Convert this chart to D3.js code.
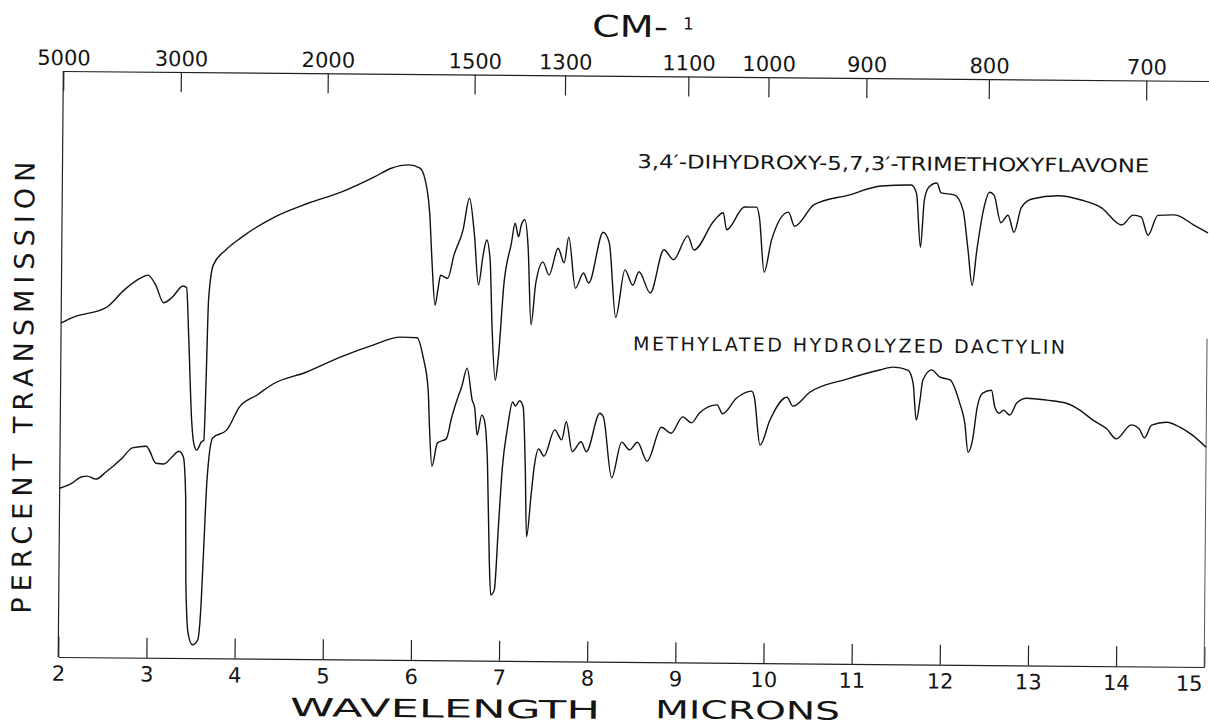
<!DOCTYPE html>
<html>
<head>
<meta charset="utf-8">
<script src="https://cdn.jsdelivr.net/npm/d3@7"></script>
<style>
body { margin: 0; background: #fff; }
text { font-family: "DejaVu Sans", sans-serif; fill: #151515; }
</style>
</head>
<body>
<svg id="chart" width="1209" height="726"></svg>
<script>
// wavelength scale (bottom) and wavenumber labels (top)
const microns = [2, 3, 4, 5, 6, 7, 8, 9, 10, 11, 12, 13, 14, 15];
const wavenumbers = [5000, 3000, 2000, 1500, 1300, 1100, 1000, 900, 800, 700];

// [wavelength in microns, percent transmission]
const flavone = [
	[2.00,57.0],[2.14,58.0],[2.52,59.8],[2.71,62.7],[2.90,64.8],[2.98,65.3],[3.07,63.6],[3.16,60.6],[3.26,61.6],[3.38,63.5],
	[3.42,63.2],[3.45,54.3],[3.49,40.6],[3.52,36.4],[3.55,35.5],[3.58,36.2],[3.60,36.9],[3.63,37.2],[3.65,47.5],[3.67,61.1],
	[3.72,67.1],[3.86,69.7],[4.03,71.8],[4.41,75.4],[4.79,77.8],[5.17,79.8],[5.54,82.4],[5.73,83.9],[5.93,84.5],[6.05,84.0],
	[6.10,82.8],[6.17,76.3],[6.20,68.3],[6.24,60.6],[6.27,63.2],[6.30,65.7],[6.38,65.2],[6.45,69.2],[6.55,73.5],[6.62,78.9],
	[6.68,72.6],[6.73,64.1],[6.78,69.2],[6.82,71.8],[6.86,68.4],[6.89,56.4],[6.93,47.9],[6.96,51.3],[7.02,64.5],[7.10,71.3],
	[7.14,74.7],[7.18,72.4],[7.21,74.4],[7.25,75.3],[7.29,70.6],[7.33,57.4],[7.38,64.5],[7.46,68.1],[7.53,65.9],[7.63,70.5],
	[7.70,68.0],[7.75,72.4],[7.83,63.7],[7.92,66.3],[7.98,64.6],[8.14,73.3],[8.21,71.5],[8.29,58.8],[8.39,66.9],[8.48,64.3],
	[8.55,66.6],[8.68,63.0],[8.83,70.4],[8.94,68.7],[9.10,72.8],[9.17,70.4],[9.40,75.5],[9.50,76.8],[9.54,73.9],[9.74,77.8],
	[9.88,77.8],[9.91,76.1],[9.97,66.7],[10.05,72.2],[10.24,77.0],[10.31,74.6],[10.53,78.3],[10.92,80.0],[11.29,81.6],[11.63,81.8],
	[11.69,80.4],[11.74,71.2],[11.78,79.3],[11.83,81.5],[11.92,82.2],[11.97,80.5],[12.12,80.2],[12.22,77.6],[12.28,70.8],[12.33,64.8],
	[12.38,70.8],[12.45,77.6],[12.52,80.7],[12.57,80.2],[12.65,75.5],[12.73,76.8],[12.80,73.9],[12.88,78.1],[13.00,79.6],[13.30,80.2],
	[13.56,79.5],[13.79,78.2],[14.02,75.3],[14.15,77.0],[14.24,76.7],[14.32,73.6],[14.43,77.0],[14.62,77.1],[14.84,75.4],[15.00,74.1]
];

const dactylin = [
	[2.00,28.8],[2.14,29.7],[2.25,30.8],[2.31,30.9],[2.41,30.4],[2.52,31.6],[2.71,34.1],[2.82,35.8],[2.98,36.1],[3.01,35.5],
	[3.09,33.2],[3.18,33.1],[3.27,34.3],[3.35,35.3],[3.40,34.3],[3.43,27.5],[3.44,13.3],[3.47,4.3],[3.52,2.3],[3.58,3.1],
	[3.61,7.7],[3.64,19.0],[3.67,30.4],[3.73,37.6],[3.89,39.0],[4.03,42.9],[4.23,45.0],[4.41,46.9],[4.79,49.0],[5.17,51.6],
	[5.54,53.7],[5.85,55.1],[6.04,55.0],[6.11,51.7],[6.17,46.1],[6.19,39.3],[6.22,33.1],[6.28,37.1],[6.38,37.8],[6.44,41.5],
	[6.51,45.0],[6.55,46.7],[6.61,49.9],[6.67,44.5],[6.70,43.1],[6.73,38.5],[6.78,41.9],[6.81,41.1],[6.85,33.7],[6.88,17.2],
	[6.90,11.2],[6.94,12.1],[6.98,22.8],[7.02,33.1],[7.07,39.4],[7.13,44.2],[7.16,43.5],[7.21,44.4],[7.25,43.3],[7.28,32.6],
	[7.30,21.2],[7.35,28.7],[7.38,33.1],[7.43,36.2],[7.49,35.0],[7.61,39.5],[7.69,37.8],[7.74,40.9],[7.81,35.8],[7.91,37.5],
	[7.97,35.8],[8.12,42.4],[8.16,41.8],[8.26,31.4],[8.37,37.5],[8.46,36.2],[8.55,37.5],[8.66,34.3],[8.82,40.1],[8.93,39.1],
	[9.06,41.9],[9.16,40.9],[9.25,42.6],[9.45,44.0],[9.51,42.5],[9.67,45.2],[9.84,46.4],[9.87,45.4],[9.94,37.2],[10.05,41.5],
	[10.24,45.4],[10.31,43.9],[10.50,46.3],[10.92,48.6],[11.29,50.2],[11.44,50.7],[11.61,50.2],[11.67,48.0],[11.71,41.7],[11.75,45.1],
	[11.78,48.5],[11.88,50.3],[11.97,49.1],[12.09,48.6],[12.20,44.7],[12.26,41.3],[12.30,36.3],[12.35,38.4],[12.40,44.0],[12.46,46.4],
	[12.56,46.9],[12.60,44.0],[12.65,43.0],[12.70,43.5],[12.77,42.7],[12.85,44.8],[12.96,45.6],[13.19,45.3],[13.41,44.8],[13.56,43.7],
	[13.71,42.0],[13.87,40.5],[13.98,38.8],[14.15,41.2],[14.24,40.5],[14.30,39.0],[14.38,41.2],[14.55,41.7],[14.70,40.9],[14.84,39.6],
	[15.00,37.5]
];

const flavoneName = "3,4\u2032-DIHYDROXY-5,7,3\u2032-TRIMETHOXYFLAVONE";
const dactylinName = "METHYLATED HYDROLYZED DACTYLIN";

const frame = {left: 60.75, right: 1206.75, top: 76, bottom: 662};

const svg = d3.select("#chart");
// the scanned sheet sits slightly askew
let g = svg.append("g").attr("transform", "rotate(0.5,633.75,369)");

let x = d3.scaleLinear().domain([2, 15]).range([frame.left, frame.right]);
let y = d3.scaleLinear().domain([0, 100]).range([frame.bottom, frame.top]);

//Bottom axis (microns)
let bottomAxis = d3.axisBottom(x)
	.tickValues(microns)
	.tickFormat(d3.format("d"))
	.tickSize(-20)
	.tickSizeOuter(0)
	.tickPadding(9);
let bAx = g.append("g")
	.attr("transform", "translate(0," + frame.bottom + ")")
	.call(bottomAxis);
// last label would run off the sheet
bAx.selectAll(".tick text")
	.filter(d => d == 15)
	.attr("text-anchor", "end")
	.attr("dx", -2);

//Top axis (wavenumbers, placed at their wavelength)
let topAxis = d3.axisTop(x)
	.tickValues(wavenumbers.map(n => 10000 / n))
	.tickFormat(d => Math.round(10000 / d))
	.tickSize(-20)
	.tickSizeOuter(0)
	.tickPadding(6);
let tAx = g.append("g")
	.attr("transform", "translate(0," + frame.top + ")")
	.call(topAxis);

g.selectAll(".domain, .tick line").attr("stroke", "#222").attr("stroke-width", 1.2);
g.selectAll(".tick text").attr("font-size", 21).attr("font-family", "DejaVu Sans").attr("fill", "#151515");

//Frame sides
g.append("line")
	.attr("x1", x(2)).attr("x2", x(2))
	.attr("y1", y(100)).attr("y2", y(0))
	.attr("stroke", "#222").attr("stroke-width", 1.2);
g.append("line")
	.attr("x1", x(15)).attr("x2", x(15))
	.attr("y1", y(56)).attr("y2", y(0))
	.attr("stroke", "#555").attr("stroke-width", 1);

//Spectra
let line = d3.line()
	.x(d => x(d[0]))
	.y(d => y(d[1]))
	.curve(d3.curveMonotoneX);

[flavone, dactylin].forEach(series => {
	g.append("path")
		.datum(series)
		.attr("d", line)
		.attr("fill", "none")
		.attr("stroke", "#111")
		.attr("stroke-width", 1.4)
		.attr("stroke-linejoin", "round");
});

//Compound names
g.append("text")
	.attr("x", x(8.52)).attr("y", y(84.3))
	.attr("font-size", 19)
	.attr("textLength", 512).attr("lengthAdjust", "spacingAndGlyphs")
	.text(flavoneName);
g.append("text")
	.attr("x", x(8.49)).attr("y", y(53.2))
	.attr("font-size", 19)
	.attr("textLength", 432).attr("lengthAdjust", "spacing")
	.text(dactylinName);

//Axis titles
g.append("text")
	.attr("x", 589).attr("y", 37)
	.attr("font-size", 30)
	.attr("textLength", 76).attr("lengthAdjust", "spacingAndGlyphs")
	.text("CM-");
g.append("text")
	.attr("x", 680).attr("y", 29)
	.attr("font-size", 17)
	.text("1");

g.append("text")
	.attr("transform", "translate(33,393) rotate(-90)")
	.attr("text-anchor", "middle")
	.attr("font-size", 27)
	.attr("textLength", 452).attr("lengthAdjust", "spacing")
	.text("PERCENT TRANSMISSION");

g.append("text")
	.attr("x", 293).attr("y", 719)
	.attr("font-size", 25)
	.attr("textLength", 310).attr("lengthAdjust", "spacingAndGlyphs")
	.text("WAVELENGTH");
g.append("text")
	.attr("x", 658).attr("y", 718)
	.attr("font-size", 25)
	.attr("textLength", 185).attr("lengthAdjust", "spacingAndGlyphs")
	.text("MICRONS");
</script>
</body>
</html>
